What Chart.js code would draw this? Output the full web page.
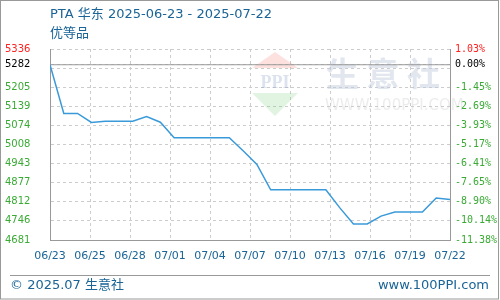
<!DOCTYPE html>
<html>
<head>
<meta charset="utf-8">
<script src="https://cdn.jsdelivr.net/npm/chart.js@4"></script>
<style>
  html, body { margin: 0; padding: 0; background: #fff; }
  #wrap { width: 500px; height: 300px; }
</style>
</head>
<body>
<div id="wrap"><canvas id="price-chart" width="500" height="300"></canvas></div>
<script>
const title = 'PTA 华东 2025-06-23 - 2025-07-22';
const subTitle = '优等品';
const dates = ['06/23','06/24','06/25','06/26','06/27','06/28','06/29','06/30','07/01','07/02',
  '07/03','07/04','07/05','07/06','07/07','07/08','07/09','07/10','07/11','07/12',
  '07/13','07/14','07/15','07/16','07/17','07/18','07/19','07/20','07/21','07/22'];
const prices = [5282, 5115, 5115, 5084, 5088, 5088, 5088, 5104, 5085, 5032,
  5032, 5032, 5032, 5032, 4987, 4940, 4853, 4853, 4853, 4853,
  4853, 4792, 4736, 4736, 4763, 4777, 4777, 4777, 4825, 4820];
const basePrice = 5282;
const xLabels = ['06/23','06/25','06/28','07/01','07/04','07/07','07/10','07/13','07/16','07/19','07/22'];
const yTicks = [4681, 4746.5, 4812, 4877.5, 4943, 5008.5, 5074, 5139.5, 5205, 5270.5, 5282, 5336];
const leftLabels = ['4681','4746','4812','4877','4943','5008','5074','5139','5205','','5282','5336'];
const rightLabels = ['-11.38%','-10.14%','-8.90%','-7.65%','-6.41%','-5.17%','-3.93%','-2.69%','-1.45%','','0.00%','1.03%'];

const green = '#3aaa35';
const textBlue = '#1a6496';
const yMin = yTicks[0];
const yMax = yTicks[yTicks.length - 1];
const dayCount = dates.length - 1;

function labelColor(v) {
  if (v === yMax) return '#ff2020';
  if (v === basePrice) return '#000';
  return green;
}

// title, footer, frame and the faint watermark
const decor = {
  id: 'decor',
  beforeDatasetsDraw(chart) {
    const c = chart.ctx;
    c.save();
    // diamond logo
    c.fillStyle = 'rgba(240,120,110,0.22)';
    c.beginPath(); c.moveTo(275, 52); c.lineTo(298, 68); c.lineTo(252, 68); c.closePath(); c.fill();
    c.fillStyle = 'rgba(120,200,120,0.22)';
    c.beginPath(); c.moveTo(252, 93); c.lineTo(298, 93); c.lineTo(275, 116); c.closePath(); c.fill();
    c.fillStyle = 'rgba(140,160,200,0.3)';
    c.font = 'bold 18px "Liberation Serif"';
    c.textAlign = 'center'; c.textBaseline = 'middle';
    c.fillText('PPI', 275, 83);
    c.fillStyle = 'rgba(190,200,220,0.45)';
    c.font = 'bold 33px "Noto Sans CJK SC"';
    c.textAlign = 'left';
    c.fillText('生 意 社', 326, 73);
    c.fillStyle = 'rgba(200,200,200,0.35)';
    c.font = '15px "DejaVu Sans"';
    c.fillText('WWW.100PPI.COM', 325, 106);
    c.restore();
  },
  afterDraw(chart) {
    const c = chart.ctx;
    c.save();
    c.fillStyle = textBlue;
    c.textBaseline = 'middle';
    c.font = '13px "DejaVu Sans", "Noto Sans CJK SC"';
    c.fillText(title, 50, 15);
    c.fillText(subTitle, 50, 34);
    c.fillText('© 2025.07 生意社', 10, 286);
    c.textAlign = 'right';
    c.fillText('www.100PPI.com', 489, 286);
    c.strokeStyle = '#999';
    c.lineWidth = 1;
    c.beginPath(); c.moveTo(10, 275.5); c.lineTo(490, 275.5); c.stroke();
    c.strokeRect(0.5, 0.5, 498, 298.5);
    c.restore();
  }
};

new Chart(document.getElementById('price-chart'), {
  type: 'line',
  data: {
    datasets: [{
      data: prices.map((p, i) => ({ x: i, y: p })),
      borderColor: '#3a9ad9',
      borderWidth: 1.5,
      pointRadius: 0,
      tension: 0,
      fill: false
    }, {
      data: [{ x: 0, y: basePrice }, { x: dayCount, y: basePrice }],
      borderColor: '#999',
      borderWidth: 1,
      pointRadius: 0,
      fill: false
    }]
  },
  options: {
    responsive: false,
    animation: false,
    layout: { padding: { left: 5, right: 0, top: 49, bottom: 0 } },
    plugins: { legend: { display: false }, tooltip: { enabled: false } },
    scales: {
      x: {
        type: 'linear',
        min: 0,
        max: dayCount,
        afterBuildTicks: (s) => { s.ticks = xLabels.map((l, i) => ({ value: i * dayCount / (xLabels.length - 1) })); },
        afterFit: (s) => { s.height = 60; },
        ticks: {
          autoSkip: false,
          maxRotation: 0,
          padding: 10,
          color: textBlue,
          font: { family: 'DejaVu Sans', size: 11 },
          callback: (v, i) => xLabels[i]
        },
        grid: { color: '#ccc', drawTicks: false },
        border: { color: '#999', dash: [3, 3], width: 1 }
      },
      y: {
        position: 'left',
        min: yMin,
        max: yMax,
        afterBuildTicks: (s) => { s.ticks = yTicks.map(v => ({ value: v })); },
        afterFit: (s) => { s.width = 45; },
        ticks: {
          autoSkip: false,
          crossAlign: 'far',
          padding: 0,
          font: { family: 'DejaVu Sans', size: 10 },
          color: (ctx) => labelColor(ctx.tick.value),
          callback: (v, i) => leftLabels[i]
        },
        grid: { color: '#ccc', drawTicks: false },
        border: { color: '#999', dash: [3, 3], width: 1 }
      },
      y1: {
        position: 'right',
        min: yMin,
        max: yMax,
        afterBuildTicks: (s) => { s.ticks = yTicks.map(v => ({ value: v })); },
        afterFit: (s) => { s.width = 50; },
        ticks: {
          autoSkip: false,
          padding: 5,
          font: { family: 'DejaVu Sans Mono', size: 10 },
          color: (ctx) => labelColor(ctx.tick.value),
          callback: (v, i) => rightLabels[i]
        },
        grid: { display: false, drawTicks: false },
        border: { color: '#999', width: 1 }
      }
    }
  },
  plugins: [decor]
});
</script>
</body>
</html>
